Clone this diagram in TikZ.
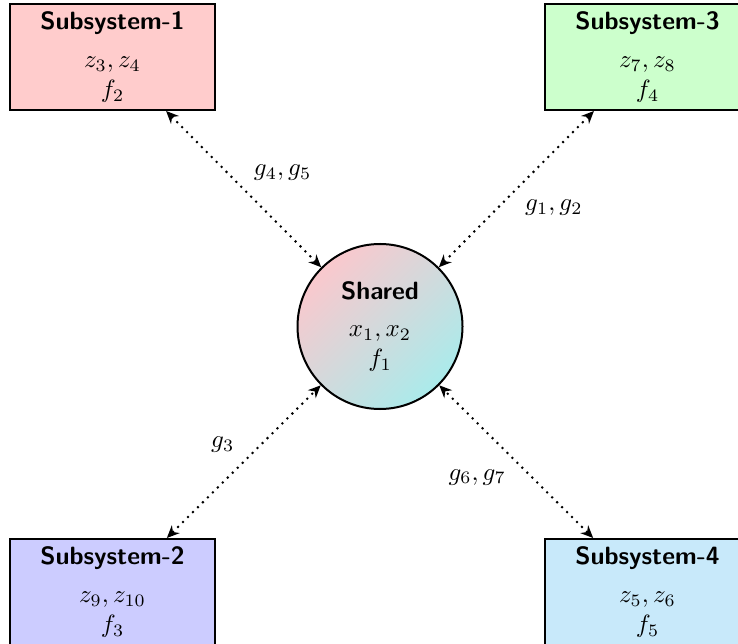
\documentclass[tikz,border=0pt]{standalone}
\usetikzlibrary{arrows.meta}
\definecolor{subone}{RGB}{255,204,204}
\definecolor{subtwo}{RGB}{204,204,255}
\definecolor{subthree}{RGB}{204,255,204}
\definecolor{subfour}{RGB}{200,233,250}
\definecolor{hubtop}{RGB}{250,200,205}
\definecolor{hubbot}{RGB}{170,235,235}
\begin{document}
\begin{tikzpicture}[x=0.4pt,y=-0.4pt,
  sub/.style={draw=black, thick, minimum width=82pt, minimum height=42.4pt, align=center, inner sep=2pt},
  hub/.style={circle, draw=black, thick, minimum size=66pt, align=center, inner sep=1pt,
    top color=hubtop, bottom color=hubbot, shading angle=45},
  link/.style={{Stealth[length=5pt,width=4.4pt,inset=1.6pt]}-{Stealth[length=5pt,width=4.4pt,inset=1.6pt]}, dotted, thick},
  lab/.style={inner sep=1pt}]
\useasboundingbox (0,0) rectangle (738,644);
\clip (0,0) rectangle (738,644);
\node[sub, fill=subone] (s1) at (112.5,57) {\textsf{\bfseries Subsystem-1}\\[3.5pt] $z_3, z_4$\\ $f_2$};
\node[sub, fill=subthree] (s3) at (647.5,57) {\textsf{\bfseries Subsystem-3}\\[3.5pt] $z_7, z_8$\\ $f_4$};
\node[sub, fill=subtwo] (s2) at (112.5,592) {\textsf{\bfseries Subsystem-2}\\[3.5pt] $z_9, z_{10}$\\ $f_3$};
\node[sub, fill=subfour] (s4) at (647.5,592) {\textsf{\bfseries Subsystem-4}\\[3.5pt] $z_5, z_6$\\ $f_5$};
\node[hub] (sh) at (380,326.5) {\textsf{\bfseries Shared}\\[3pt] $x_1, x_2$\\ $f_1$};
\draw[link] (s1) -- node[lab, xshift=15.6pt, yshift=6.6pt] (l1) {$g_4, g_5$} (sh);
\draw[link] (s3) -- node[lab, xshift=15pt, yshift=-7.4pt] (l3) {$g_1, g_2$} (sh);
\draw[link] (s2) -- node[lab, xshift=-8.4pt, yshift=6.8pt] (l2) {$g_3$} (sh);
\draw[link] (s4) -- node[lab, xshift=-15.6pt, yshift=-6.2pt] (l4) {$g_6, g_7$} (sh);
\end{tikzpicture}
\end{document}
